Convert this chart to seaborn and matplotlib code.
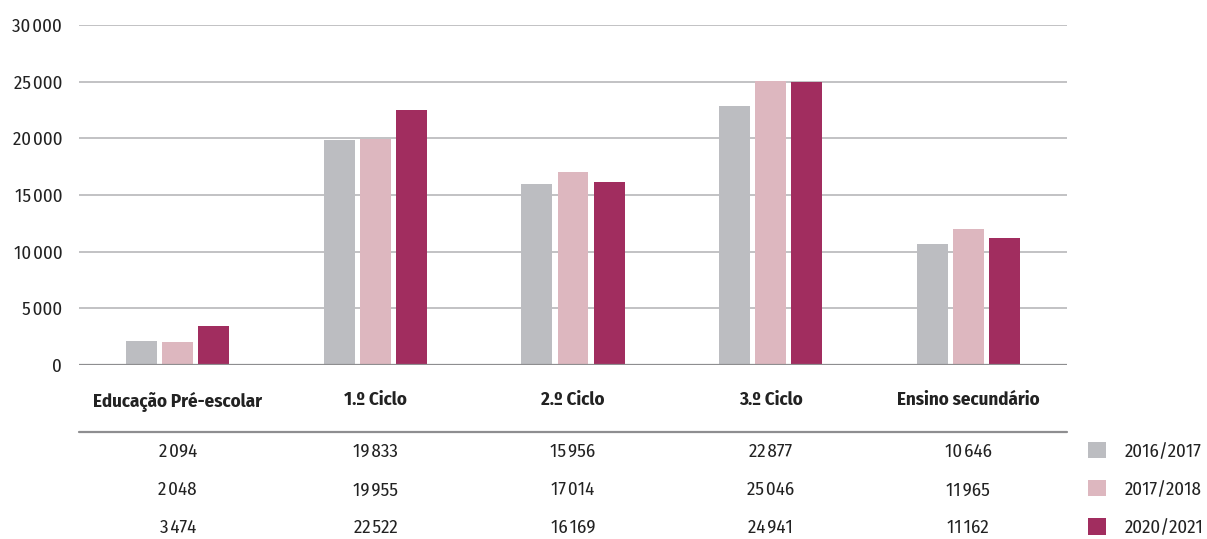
import matplotlib
matplotlib.use("Agg")
import matplotlib.pyplot as plt
from matplotlib.lines import Line2D
import seaborn as sns
import pandas as pd

categories = ["Educação Pré-escolar", "1.º Ciclo", "2.º Ciclo", "3.º Ciclo", "Ensino secundário"]
years = ["2016/2017", "2017/2018", "2020/2021"]
v_2016_2017 = [2094, 19833, 15956, 22877, 10646]
v_2017_2018 = [2048, 19955, 17014, 25046, 11965]
v_2020_2021 = [3474, 22522, 16169, 24941, 11162]
y_ticks = [0, 5000, 10000, 15000, 20000, 25000, 30000]

colors = ["#BCBDC1", "#DDB7BF", "#A12D5F"]

series = [v_2016_2017, v_2017_2018, v_2020_2021]
df = pd.DataFrame(
    [(c, y, v) for y, vals in zip(years, series) for c, v in zip(categories, vals)],
    columns=["categoria", "ano", "valor"],
)

def fmt(n):
    return f"{n:,}".replace(",", "\u200a")

sns.set_theme(style="white")
plt.rcParams["font.family"] = ["Fira Sans Condensed", "Fira Sans", "DejaVu Sans"]
FS = 13.6
TXT = "#222222"

fig = plt.figure(figsize=(12.07, 5.39), dpi=100)
ax = fig.add_axes([79 / 1207, 1 - 365 / 539, (1067 - 79) / 1207, 340 / 539])

sns.barplot(
    data=df, x="categoria", y="valor", hue="ano", order=categories, hue_order=years,
    palette=colors, width=0.547, gap=0.14, saturation=1, ax=ax, legend=True,
    errorbar=None, zorder=2, linewidth=0,
)

ax.set_xlim(-0.5, 4.5)
ax.set_ylim(0, 30000)
ax.set_yticks(y_ticks)
ax.set_yticklabels([fmt(t) for t in y_ticks], fontsize=FS, color=TXT)
ax.tick_params(axis="y", length=0, pad=12)
ax.set_xlabel("")
ax.set_ylabel("")
ax.set_xticks(range(len(categories)))
ax.set_xticklabels(categories, fontsize=FS, fontweight="bold", color=TXT)
ax.tick_params(axis="x", length=0, pad=19)

for t in y_ticks[1:]:
    ax.axhline(t, color="#BDBDBF", lw=1.3, zorder=0)
ax.axhline(0, color="#8E8E90", lw=1.6, zorder=3)
for s in ax.spines.values():
    s.set_visible(False)

# data table below the chart
ax.add_line(Line2D([0, 1], [-0.197, -0.197], transform=ax.transAxes,
                   color="#8E8E90", lw=1.6, clip_on=False))
row_y = [-0.256, -0.368, -0.479]
for vals, yy in zip(series, row_y):
    for i, v in enumerate(vals):
        ax.text(i, yy, fmt(v), transform=ax.get_xaxis_transform(),
                ha="center", va="center", fontsize=FS, color=TXT)

handles, labels = ax.get_legend_handles_labels()
ax.legend(handles, labels, loc="upper left", bbox_to_anchor=(1088 / 1207, 1 - 442 / 539),
          bbox_transform=fig.transFigure, frameon=False, fontsize=FS,
          handlelength=0.95, handleheight=0.95, handletextpad=1.0,
          labelspacing=1.05, borderaxespad=0, borderpad=0)
for t in ax.get_legend().get_texts():
    t.set_color(TXT)

fig.savefig("out.png", dpi=100)
